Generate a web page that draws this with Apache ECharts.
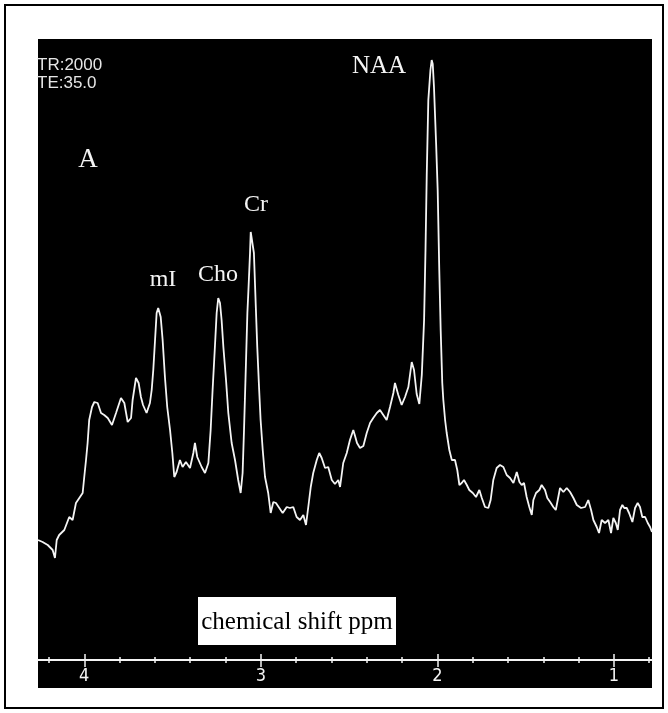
<!DOCTYPE html>
<html lang="en">
  <head>
    <meta charset="UTF-8" />
    <title>MR spectrum A</title>
    <script src="https://cdn.jsdelivr.net/npm/echarts@6.0.0/dist/echarts.min.js"></script>
    <style>
      html, body { margin: 0; padding: 0; background: #fff; }
    </style>
  </head>
  <body>
    <div id="main" style="width: 668px; height: 713px"></div>
    <script>
      var ppmValues = [
        4.262, 4.236, 4.207, 4.179, 4.166, 4.156, 4.142, 4.113, 4.085, 4.066,
        4.047, 4.028, 4.009, 4.0, 3.99, 3.981, 3.972, 3.956, 3.943, 3.924,
        3.905, 3.887, 3.867, 3.843, 3.82, 3.792, 3.773, 3.754, 3.735, 3.726,
        3.707, 3.692, 3.679, 3.667, 3.647, 3.628, 3.618, 3.609, 3.599, 3.59,
        3.581, 3.567, 3.556, 3.543, 3.53, 3.514, 3.501, 3.49, 3.477, 3.458,
        3.443, 3.424, 3.401, 3.382, 3.373, 3.36, 3.335, 3.316, 3.297, 3.284,
        3.273, 3.26, 3.25, 3.241, 3.231, 3.222, 3.212, 3.197, 3.184, 3.165,
        3.146, 3.128, 3.114, 3.103, 3.095, 3.084, 3.076, 3.07, 3.061, 3.057,
        3.046, 3.039, 3.029, 3.02, 3.01, 3.001, 2.989, 2.976, 2.958, 2.944,
        2.929, 2.914, 2.895, 2.876, 2.853, 2.835, 2.816, 2.797, 2.778, 2.759,
        2.744, 2.731, 2.717, 2.703, 2.683, 2.669, 2.655, 2.636, 2.618, 2.598,
        2.58, 2.561, 2.551, 2.533, 2.513, 2.495, 2.476, 2.466, 2.455, 2.438,
        2.419, 2.4, 2.381, 2.363, 2.343, 2.325, 2.306, 2.287, 2.268, 2.249,
        2.24, 2.221, 2.202, 2.183, 2.164, 2.145, 2.132, 2.117, 2.102, 2.088,
        2.075, 2.067, 2.06, 2.051, 2.039, 2.032, 2.026, 2.019, 2.007, 1.998,
        1.989, 1.981, 1.972, 1.966, 1.956, 1.947, 1.932, 1.918, 1.9, 1.887,
        1.875, 1.862, 1.849, 1.833, 1.819, 1.799, 1.781, 1.762, 1.748, 1.73,
        1.711, 1.698, 1.683, 1.664, 1.645, 1.626, 1.607, 1.588, 1.569, 1.55,
        1.535, 1.522, 1.509, 1.494, 1.479, 1.465, 1.456, 1.441, 1.422, 1.409,
        1.39, 1.377, 1.361, 1.343, 1.329, 1.318, 1.305, 1.286, 1.267, 1.248,
        1.229, 1.21, 1.186, 1.163, 1.145, 1.129, 1.116, 1.097, 1.084, 1.069,
        1.05, 1.031, 1.016, 1.003, 0.989, 0.978, 0.965, 0.952, 0.941, 0.927,
        0.914, 0.895, 0.88, 0.865, 0.852, 0.839, 0.823, 0.808, 0.795, 0.784
      ];

      // signal amplitude (arbitrary units), same order as ppmValues
      var amplitudeValues = [
        120, 118, 115, 110, 102, 120, 125, 130, 143, 140,
        157, 162, 167, 183, 200, 217, 240, 253, 258, 257,
        247, 245, 242, 235, 247, 262, 257, 238, 242, 260,
        282, 277, 263, 255, 247, 257, 270, 290, 320, 347,
        352, 343, 320, 283, 253, 230, 207, 183, 188, 200,
        193, 198, 192, 207, 217, 203, 193, 187, 197, 230,
        270, 313, 347, 362, 357, 340, 313, 280, 247, 217,
        200, 180, 167, 187, 230, 297, 347, 370, 407, 428,
        427, 407, 357, 313, 273, 240, 210, 183, 167, 147,
        158, 157, 152, 147, 153, 152, 153, 143, 140, 145,
        135, 153, 173, 187, 200, 207, 202, 192, 193, 180,
        176, 180, 173, 197, 207, 220, 230, 224, 217, 212,
        214, 227, 237, 242, 247, 250, 245, 240, 253, 267,
        277, 265, 255, 263, 273, 298, 290, 266, 256, 285,
        340, 410, 485, 560, 590, 600, 596, 573, 517, 470,
        390, 330, 277, 260, 240, 227, 210, 200, 200, 190,
        175, 177, 180, 175, 170, 167, 163, 170, 162, 153,
        152, 160, 180, 192, 195, 193, 185, 182, 177, 188,
        178, 175, 177, 163, 153, 145, 160, 167, 170, 175,
        170, 162, 158, 153, 150, 160, 172, 168, 172, 168,
        162, 155, 152, 153, 160, 150, 140, 133, 127, 140,
        137, 140, 127, 142, 137, 130, 150, 155, 152, 152,
        147, 138, 152, 157, 153, 143, 143, 137, 133, 128
      ];

      var majorTicks = [1, 2, 3, 4];
      var minorTicks = [0.8, 1.2, 1.4, 1.6, 1.8, 2.2, 2.4, 2.6, 2.8, 3.2, 3.4, 3.6, 3.8, 4.2];
      var headerLines = ["TR:2000", "TE:35.0"];
      var panelName = "A";
      var axisTitle = "chemical shift ppm";

      var spectrum = [];
      for (var i = 0; i < ppmValues.length; i++) {
        spectrum.push([ppmValues[i], amplitudeValues[i]]);
      }

      var chartDom = document.getElementById("main");
      var myChart = echarts.init(chartDom, null, { renderer: "canvas" });

      var serif = "'Liberation Serif', 'Times New Roman', serif";
      var sans = "'Liberation Sans', Arial, sans-serif";
      var ink = "#f4f4f4";

      // one x axis per tick set, so that ticks can cross the axis line
      function tickAxis(values, len, inside, showLine, showLabels) {
        return {
          type: "value",
          gridIndex: 0,
          position: "bottom",
          min: 0.784,
          max: 4.262,
          inverse: true,
          axisLine: { show: showLine, lineStyle: { color: ink, width: 2 } },
          axisTick: {
            show: true,
            inside: inside,
            length: len,
            customValues: values,
            lineStyle: { color: ink, width: 1.5 },
          },
          axisLabel: {
            show: showLabels,
            customValues: values,
            margin: 7,
            color: ink,
            fontSize: 18,
            fontFamily: "'Liberation Sans Narrow', 'DejaVu Sans Condensed', sans-serif",
          },
          splitLine: { show: false },
        };
      }

      var option = {
        backgroundColor: "#ffffff",
        animation: false,
        grid: { left: 38, right: 16, top: 39, bottom: 53 },
        xAxis: [
          tickAxis(majorTicks, 7, false, true, true),
          tickAxis(majorTicks, 6, true, false, false),
          tickAxis(minorTicks, 3, false, false, false),
          tickAxis(minorTicks, 3, true, false, false),
        ],
        yAxis: {
          type: "value",
          min: 0,
          max: 621,
          show: false,
        },
        graphic: [
          {
            type: "rect",
            z: -20,
            shape: { x: 5, y: 5, width: 658, height: 703 },
            style: { fill: "#ffffff", stroke: "#000000", lineWidth: 2 },
          },
          {
            type: "rect",
            z: -10,
            shape: { x: 38, y: 39, width: 614, height: 649 },
            style: { fill: "#000000" },
          },
          {
            type: "text",
            z: 10,
            x: 37,
            y: 65,
            style: { text: headerLines[0], fill: "#e6e6e6", font: "17px " + sans, textVerticalAlign: "middle" },
          },
          {
            type: "text",
            z: 10,
            x: 37,
            y: 83,
            style: { text: headerLines[1], fill: "#e6e6e6", font: "17px " + sans, textVerticalAlign: "middle" },
          },
          {
            type: "text",
            z: 10,
            x: 88,
            y: 160,
            style: { text: panelName, fill: ink, font: "27px " + serif, textAlign: "center", textVerticalAlign: "middle" },
          },
          {
            type: "text",
            z: 10,
            x: 163,
            y: 280,
            style: { text: "mI", fill: ink, font: "24px " + serif, textAlign: "center", textVerticalAlign: "middle" },
          },
          {
            type: "text",
            z: 10,
            x: 218,
            y: 275,
            style: { text: "Cho", fill: ink, font: "24px " + serif, textAlign: "center", textVerticalAlign: "middle" },
          },
          {
            type: "text",
            z: 10,
            x: 256,
            y: 205,
            style: { text: "Cr", fill: ink, font: "24px " + serif, textAlign: "center", textVerticalAlign: "middle" },
          },
          {
            type: "text",
            z: 10,
            x: 379,
            y: 66,
            style: { text: "NAA", fill: ink, font: "25px " + serif, textAlign: "center", textVerticalAlign: "middle" },
          },
          {
            type: "rect",
            z: 10,
            shape: { x: 198, y: 597, width: 198, height: 48 },
            style: { fill: "#ffffff" },
          },
          {
            type: "text",
            z: 11,
            x: 297,
            y: 622,
            style: { text: axisTitle, fill: "#000000", font: "25px " + serif, textAlign: "center", textVerticalAlign: "middle" },
          },
        ],
        series: [
          {
            type: "line",
            xAxisIndex: 0,
            yAxisIndex: 0,
            data: spectrum,
            showSymbol: false,
            symbol: "none",
            lineStyle: { color: ink, width: 1.8 },
            z: 5,
          },
        ],
      };

      myChart.setOption(option);
    </script>
  </body>
</html>
